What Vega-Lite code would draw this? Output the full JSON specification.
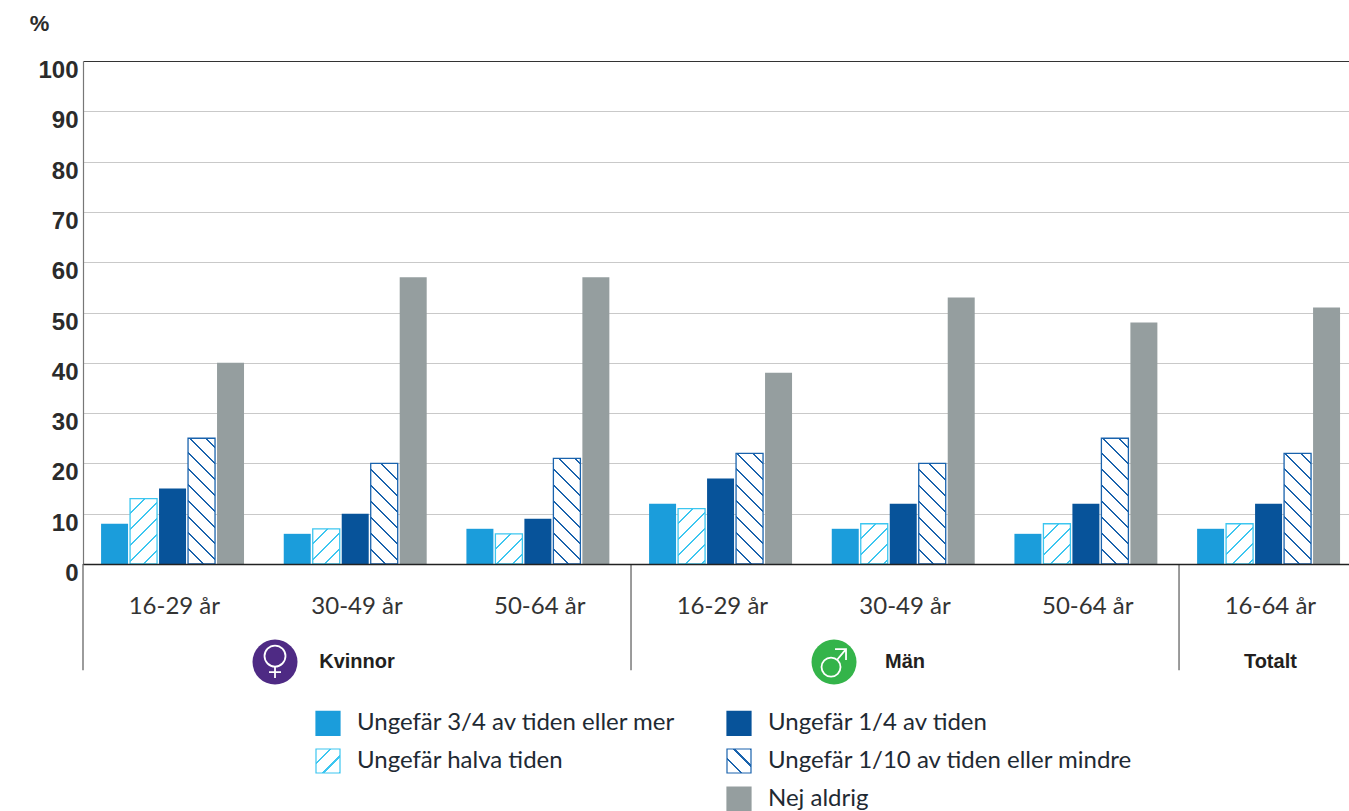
{
"$schema":"https://vega.github.io/schema/vega-lite/v6.json",
"autosize":{"type":"none"},
"padding":{"left":83,"top":61,"right":0,"bottom":247},
"width":1266,"height":503,
"background":"white",
"params":[
{"name":"stopsLight","expr":"[{offset:0,color:'#fff'},{offset:0.0729,color:'#fff'},{offset:0.0729,color:'#3cc6f0'},{offset:0.0833,color:'#3cc6f0'},{offset:0.0833,color:'#fff'},{offset:0.1562,color:'#fff'},{offset:0.1562,color:'#3cc6f0'},{offset:0.1667,color:'#3cc6f0'},{offset:0.1667,color:'#fff'},{offset:0.2396,color:'#fff'},{offset:0.2396,color:'#3cc6f0'},{offset:0.25,color:'#3cc6f0'},{offset:0.25,color:'#fff'},{offset:0.3229,color:'#fff'},{offset:0.3229,color:'#3cc6f0'},{offset:0.3333,color:'#3cc6f0'},{offset:0.3333,color:'#fff'},{offset:0.4062,color:'#fff'},{offset:0.4062,color:'#3cc6f0'},{offset:0.4167,color:'#3cc6f0'},{offset:0.4167,color:'#fff'},{offset:0.4896,color:'#fff'},{offset:0.4896,color:'#3cc6f0'},{offset:0.5,color:'#3cc6f0'},{offset:0.5,color:'#fff'},{offset:0.5729,color:'#fff'},{offset:0.5729,color:'#3cc6f0'},{offset:0.5833,color:'#3cc6f0'},{offset:0.5833,color:'#fff'},{offset:0.6562,color:'#fff'},{offset:0.6562,color:'#3cc6f0'},{offset:0.6667,color:'#3cc6f0'},{offset:0.6667,color:'#fff'},{offset:0.7396,color:'#fff'},{offset:0.7396,color:'#3cc6f0'},{offset:0.75,color:'#3cc6f0'},{offset:0.75,color:'#fff'},{offset:0.8229,color:'#fff'},{offset:0.8229,color:'#3cc6f0'},{offset:0.8333,color:'#3cc6f0'},{offset:0.8333,color:'#fff'},{offset:1,color:'#fff'}]"},
{"name":"stopsDark","expr":"[{offset:0,color:'#fff'},{offset:0.0729,color:'#fff'},{offset:0.0729,color:'#1a63ad'},{offset:0.0833,color:'#1a63ad'},{offset:0.0833,color:'#fff'},{offset:0.1562,color:'#fff'},{offset:0.1562,color:'#1a63ad'},{offset:0.1667,color:'#1a63ad'},{offset:0.1667,color:'#fff'},{offset:0.2396,color:'#fff'},{offset:0.2396,color:'#1a63ad'},{offset:0.25,color:'#1a63ad'},{offset:0.25,color:'#fff'},{offset:0.3229,color:'#fff'},{offset:0.3229,color:'#1a63ad'},{offset:0.3333,color:'#1a63ad'},{offset:0.3333,color:'#fff'},{offset:0.4062,color:'#fff'},{offset:0.4062,color:'#1a63ad'},{offset:0.4167,color:'#1a63ad'},{offset:0.4167,color:'#fff'},{offset:0.4896,color:'#fff'},{offset:0.4896,color:'#1a63ad'},{offset:0.5,color:'#1a63ad'},{offset:0.5,color:'#fff'},{offset:0.5729,color:'#fff'},{offset:0.5729,color:'#1a63ad'},{offset:0.5833,color:'#1a63ad'},{offset:0.5833,color:'#fff'},{offset:0.6562,color:'#fff'},{offset:0.6562,color:'#1a63ad'},{offset:0.6667,color:'#1a63ad'},{offset:0.6667,color:'#fff'},{offset:0.7396,color:'#fff'},{offset:0.7396,color:'#1a63ad'},{offset:0.75,color:'#1a63ad'},{offset:0.75,color:'#fff'},{offset:0.8229,color:'#fff'},{offset:0.8229,color:'#1a63ad'},{offset:0.8333,color:'#1a63ad'},{offset:0.8333,color:'#fff'},{offset:1,color:'#fff'}]"}
],
"datasets":{
"bars":[
{"grupp":"Kvinnor 16-29 år","serie":"Ungefär 3/4 av tiden eller mer","varde":8},
{"grupp":"Kvinnor 16-29 år","serie":"Ungefär halva tiden","varde":13},
{"grupp":"Kvinnor 16-29 år","serie":"Ungefär 1/4 av tiden","varde":15},
{"grupp":"Kvinnor 16-29 år","serie":"Ungefär 1/10 av tiden eller mindre","varde":25},
{"grupp":"Kvinnor 16-29 år","serie":"Nej aldrig","varde":40},
{"grupp":"Kvinnor 30-49 år","serie":"Ungefär 3/4 av tiden eller mer","varde":6},
{"grupp":"Kvinnor 30-49 år","serie":"Ungefär halva tiden","varde":7},
{"grupp":"Kvinnor 30-49 år","serie":"Ungefär 1/4 av tiden","varde":10},
{"grupp":"Kvinnor 30-49 år","serie":"Ungefär 1/10 av tiden eller mindre","varde":20},
{"grupp":"Kvinnor 30-49 år","serie":"Nej aldrig","varde":57},
{"grupp":"Kvinnor 50-64 år","serie":"Ungefär 3/4 av tiden eller mer","varde":7},
{"grupp":"Kvinnor 50-64 år","serie":"Ungefär halva tiden","varde":6},
{"grupp":"Kvinnor 50-64 år","serie":"Ungefär 1/4 av tiden","varde":9},
{"grupp":"Kvinnor 50-64 år","serie":"Ungefär 1/10 av tiden eller mindre","varde":21},
{"grupp":"Kvinnor 50-64 år","serie":"Nej aldrig","varde":57},
{"grupp":"Män 16-29 år","serie":"Ungefär 3/4 av tiden eller mer","varde":12},
{"grupp":"Män 16-29 år","serie":"Ungefär halva tiden","varde":11},
{"grupp":"Män 16-29 år","serie":"Ungefär 1/4 av tiden","varde":17},
{"grupp":"Män 16-29 år","serie":"Ungefär 1/10 av tiden eller mindre","varde":22},
{"grupp":"Män 16-29 år","serie":"Nej aldrig","varde":38},
{"grupp":"Män 30-49 år","serie":"Ungefär 3/4 av tiden eller mer","varde":7},
{"grupp":"Män 30-49 år","serie":"Ungefär halva tiden","varde":8},
{"grupp":"Män 30-49 år","serie":"Ungefär 1/4 av tiden","varde":12},
{"grupp":"Män 30-49 år","serie":"Ungefär 1/10 av tiden eller mindre","varde":20},
{"grupp":"Män 30-49 år","serie":"Nej aldrig","varde":53},
{"grupp":"Män 50-64 år","serie":"Ungefär 3/4 av tiden eller mer","varde":6},
{"grupp":"Män 50-64 år","serie":"Ungefär halva tiden","varde":8},
{"grupp":"Män 50-64 år","serie":"Ungefär 1/4 av tiden","varde":12},
{"grupp":"Män 50-64 år","serie":"Ungefär 1/10 av tiden eller mindre","varde":25},
{"grupp":"Män 50-64 år","serie":"Nej aldrig","varde":48},
{"grupp":"Totalt 16-64 år","serie":"Ungefär 3/4 av tiden eller mer","varde":7},
{"grupp":"Totalt 16-64 år","serie":"Ungefär halva tiden","varde":8},
{"grupp":"Totalt 16-64 år","serie":"Ungefär 1/4 av tiden","varde":12},
{"grupp":"Totalt 16-64 år","serie":"Ungefär 1/10 av tiden eller mindre","varde":22},
{"grupp":"Totalt 16-64 år","serie":"Nej aldrig","varde":51}
],
"kon":[
{"grupp":"Kvinnor 30-49 år","kon":"Kvinnor","start":"Kvinnor 16-29 år"},
{"grupp":"Män 30-49 år","kon":"Män","start":"Män 16-29 år"},
{"grupp":"Totalt 16-64 år","kon":"Totalt","start":"Totalt 16-64 år"}
]
},
"layer":[
{
"data":{"name":"bars"},
"transform":[{"filter":"indexof(['Ungefär halva tiden','Ungefär 1/10 av tiden eller mindre'],datum.serie)<0"}],
"mark":{"type":"bar","strokeWidth":0,"fill":{"expr":"datum.serie=='Nej aldrig'?'#959e9f':datum.serie=='Ungefär 1/4 av tiden'?'#07539a':'#1b9ddb'"}},
"encoding":{
"x":{"field":"grupp","type":"nominal","sort":null,
"scale":{"domain":["Kvinnor 16-29 år","Kvinnor 30-49 år","Kvinnor 50-64 år","Män 16-29 år","Män 30-49 år","Män 50-64 år","Totalt 16-64 år"],"range":[0,1278.7],"paddingInner":0,"paddingOuter":0},
"axis":{"title":null,"labelExpr":"slice(datum.label,-8)","labelAngle":0,"ticks":false,"domainColor":"#222","domainWidth":1.5,"zindex":1,"labelFont":"Lato","labelFontSize":24,"labelColor":"#333","labelBaseline":"middle","labelPadding":42,"grid":false}},
"xOffset":{"field":"serie","type":"nominal","sort":null,
"scale":{"domain":["Ungefär 3/4 av tiden eller mer","Ungefär halva tiden","Ungefär 1/4 av tiden","Ungefär 1/10 av tiden eller mindre","Nej aldrig"],"paddingInner":0.069,"paddingOuter":0.685,"align":0.455}},
"y":{"field":"varde","type":"quantitative","stack":null,
"scale":{"domain":[0,100],"nice":false},
"axis":{"title":"%","titleAngle":0,"titleX":-44,"titleY":-38,"titleFont":"Liberation Sans","titleFontSize":22,"titleFontWeight":"bold","titleColor":"#2b2b2b","titleAlign":"center","titleBaseline":"middle",
"values":[0,10,20,30,40,50,60,70,80,90,100],"ticks":false,"grid":true,"gridColor":{"condition":{"test":"datum.value==100","value":"#333333"},"value":"#c9c9c9"},"gridWidth":1.2,"domainColor":"#777","domainWidth":1.2,
"labelFont":"Liberation Sans","labelFontWeight":"bold","labelFontSize":24,"labelColor":"#2b2b2b","labelPadding":5,"labelOffset":9.5,"labelBaseline":"middle"}},
"stroke":{"field":"serie","type":"nominal","sort":null,
"scale":{"domain":["Ungefär 3/4 av tiden eller mer","Ungefär halva tiden"," ","Ungefär 1/4 av tiden","Ungefär 1/10 av tiden eller mindre","Nej aldrig"],
"range":["#1b9ddb","#3cc6f0","transparent","#07539a","#1a63ad","#959e9f"]},
"legend":{"title":null,"orient":"none","legendX":232,"legendY":649,"columns":2,"symbolType":"square","symbolSize":576,"rowPadding":8,"columnPadding":48,"labelOffset":16,"labelFont":"Lato","labelFontSize":24,"labelColor":"#1f2a33","labelLimit":500,"gridAlign":"each","symbolStrokeWidth":1.2,
"encoding":{"symbols":{
"fill":{"value":{"signal":"datum.value=='Ungefär halva tiden'?{gradient:'linear',x1:0,y1:0,x2:4,y2:4,stops:stopsLight}:datum.value=='Ungefär 1/10 av tiden eller mindre'?{gradient:'linear',x1:0,y1:1,x2:4,y2:-3,stops:stopsDark}:datum.value=='Ungefär 3/4 av tiden eller mer'?'#1b9ddb':datum.value=='Ungefär 1/4 av tiden'?'#07539a':datum.value=='Nej aldrig'?'#959e9f':'transparent'"}}}}}
}
}
},
{
"data":{"name":"bars"},
"transform":[{"filter":"datum.serie=='Ungefär halva tiden'"}],
"mark":{"type":"bar","stroke":"#3cc6f0","strokeWidth":1.3,
"fill":{"expr":"{gradient:'linear',x1:0,y1:0,x2:192*27/(729+pow(datum.varde*5.03,2)),y2:192*datum.varde*5.03/(729+pow(datum.varde*5.03,2)),stops:stopsLight}"}},
"encoding":{
"x":{"field":"grupp","type":"nominal","sort":null},
"xOffset":{"field":"serie","type":"nominal","sort":null},
"y":{"field":"varde","type":"quantitative","stack":null}
}
},
{
"data":{"name":"bars"},
"transform":[{"filter":"datum.serie=='Ungefär 1/10 av tiden eller mindre'"}],
"mark":{"type":"bar","stroke":"#1a63ad","strokeWidth":1.3,
"fill":{"expr":"{gradient:'linear',x1:0,y1:1,x2:192*27/(729+pow(datum.varde*5.03,2)),y2:1-192*datum.varde*5.03/(729+pow(datum.varde*5.03,2)),stops:stopsDark}"}},
"encoding":{
"x":{"field":"grupp","type":"nominal","sort":null},
"xOffset":{"field":"serie","type":"nominal","sort":null},
"y":{"field":"varde","type":"quantitative","stack":null}
}
},
{
"data":{"name":"kon"},
"mark":{"type":"rule","color":"#666","strokeWidth":1.3},
"encoding":{
"x":{"field":"start","type":"nominal","sort":null,"bandPosition":0},
"y":{"datum":0,"type":"quantitative"},
"y2":{"datum":-21.1}
}
},
{
"data":{"name":"kon"},
"mark":{"type":"text","font":"Liberation Sans","fontWeight":"bold","fontSize":20,"color":"#231f20","baseline":"middle"},
"encoding":{
"x":{"field":"grupp","type":"nominal","sort":null},
"y":{"datum":-19.5,"type":"quantitative"},
"text":{"field":"kon"}
}
},
{
"data":{"name":"kon"},
"transform":[{"filter":"datum.kon!='Totalt'"}],
"mark":{"type":"point","filled":true,"opacity":1,"size":2025,"shape":"circle","xOffset":{"expr":"datum.kon=='Kvinnor'?-82:-71"},"fill":{"expr":"datum.kon=='Kvinnor'?'#4e2a84':'#34b44a'"},"stroke":null},
"encoding":{
"x":{"field":"grupp","type":"nominal","sort":null},
"y":{"datum":-19.5,"type":"quantitative"}
}
},
{
"data":{"name":"kon"},
"transform":[{"filter":"datum.kon!='Totalt'"}],
"mark":{"type":"point","filled":false,"opacity":1,"size":4,"strokeWidth":1.8,"stroke":"white","fill":null,
"shape":{"expr":"datum.kon=='Kvinnor'?'M-10.5,-6a10.5,10.5 0 1,0 21,0a10.5,10.5 0 1,0 -21,0M0,4.5L0,16M-6,10L6,10':'M-12.5,5a9.5,9.5 0 1,0 19,0a9.5,9.5 0 1,0 -19,0M3.1,-2.3L12,-13M1,-13L12,-13L12,-2'"},
"xOffset":{"expr":"datum.kon=='Kvinnor'?-82:-71"}},
"encoding":{
"x":{"field":"grupp","type":"nominal","sort":null},
"y":{"datum":-19.5,"type":"quantitative"}
}
}
],
"config":{"view":{"stroke":null}}
}
